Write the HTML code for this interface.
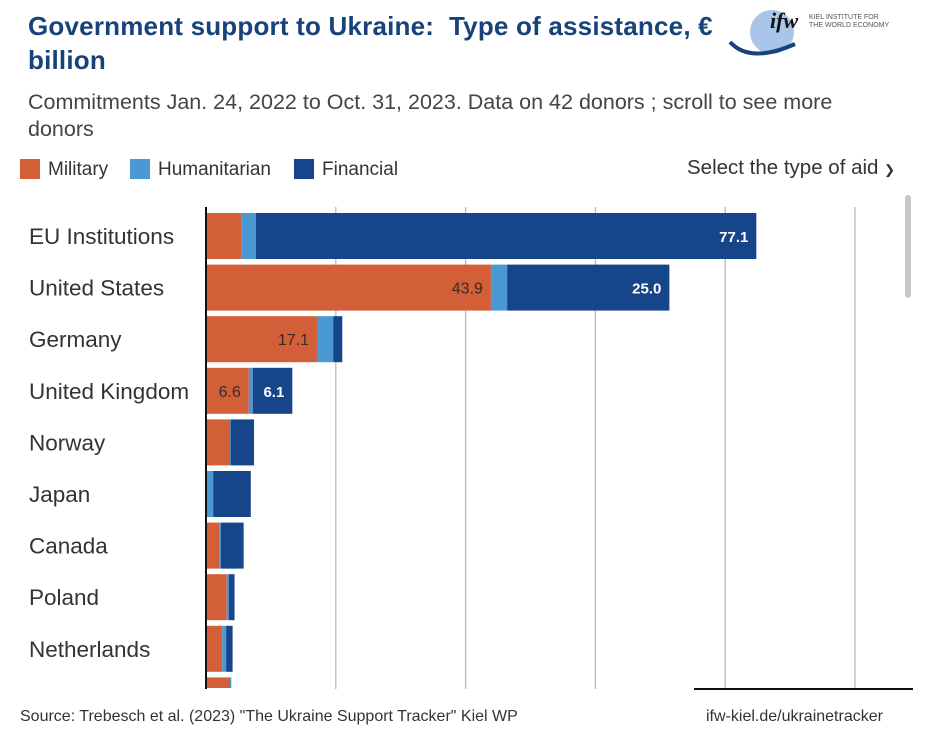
<!DOCTYPE html>
<html><head><meta charset="utf-8"><style>
body{margin:0;width:936px;height:744px;background:#fff;font-family:"Liberation Sans",sans-serif;position:relative;overflow:hidden}
.t{position:absolute;white-space:nowrap}
</style></head><body>
<div class="t" style="left:28px;top:9px;font-size:26px;font-weight:bold;color:#17427a;line-height:34px;letter-spacing:0.2px">Government support to Ukraine:&nbsp; Type of assistance, €<br>billion</div>
<div class="t" style="left:28px;top:89px;font-size:21.5px;color:#444;line-height:27px">Commitments Jan. 24, 2022 to Oct. 31, 2023. Data on 42 donors ; scroll to see more<br>donors</div>
<svg style="position:absolute;left:720px;top:4px" width="200" height="55">
<circle cx="52" cy="28" r="22" fill="#a9c6ea"/>
<path d="M10 38 Q30 60 75 40" stroke="#17427a" stroke-width="4" fill="none"/>
<text x="50" y="24" font-size="22" font-weight="bold" font-style="italic" fill="#111" font-family="Liberation Serif">ifw</text>
<text x="89" y="15" font-size="7" fill="#555">KIEL INSTITUTE FOR</text>
<text x="89" y="23" font-size="7" fill="#555">THE WORLD ECONOMY</text>
</svg>
<div>
<div class="t" style="left:20px;top:159px;font-size:19px;color:#333"><span style="display:inline-block;width:20px;height:20px;background:#d35f38;vertical-align:-4px;margin-right:8px"></span>Military</div>
<div class="t" style="left:130px;top:159px;font-size:19px;color:#333"><span style="display:inline-block;width:20px;height:20px;background:#4c98d3;vertical-align:-4px;margin-right:8px"></span>Humanitarian</div>
<div class="t" style="left:294px;top:159px;font-size:19px;color:#333"><span style="display:inline-block;width:20px;height:20px;background:#17458a;vertical-align:-4px;margin-right:8px"></span>Financial</div>
</div>
<div class="t" style="left:687px;top:156px;font-size:20.5px;color:#333">Select the type of aid <span style="font-size:13px">&#10095;</span></div>
<div style="position:absolute;left:905px;top:195px;width:6px;height:103px;background:#c8c8c8;border-radius:3px"></div>
<svg id="chart" style="position:absolute;left:0;top:0" width="936" height="744"></svg>
<div class="t" style="left:20px;top:708px;font-size:16px;color:#333">Source: Trebesch et al. (2023) "The Ukraine Support Tracker" Kiel WP</div>
<div class="t" style="left:706px;top:708px;font-size:16px;color:#333">ifw-kiel.de/ukrainetracker</div>
<script>
const countries=["EU Institutions","United States","Germany","United Kingdom","Norway","Japan","Canada","Poland","Netherlands","Denmark"];
const military=[5.5,43.9,17.1,6.6,3.7,0.1,2.1,3.2,2.5,3.7];
const humanitarian=[2.2,2.5,2.5,0.6,0.1,1.0,0.2,0.3,0.6,0.2];
const financial=[77.1,25.0,1.4,6.1,3.6,5.8,3.5,0.9,1.0,0];
const milLabels=["","43.9","17.1","6.6","","","","","",""];
const finLabels=["77.1","25.0","","6.1","","","","","",""];
const gridTicks=[20,40,60,80,100];
const NS="http://www.w3.org/2000/svg";
const svg=document.getElementById('chart');
const x0=206,scale=6.49,y0=213,pitch=51.6,bh=46,clipY=688;
const xs=v=>x0+v*scale;
function mk(tag,a){const e=document.createElementNS(NS,tag);for(const k in a)e.setAttribute(k,a[k]);svg.appendChild(e);return e;}
gridTicks.forEach((t,i)=>{const l=mk('line',{x1:xs(t),x2:xs(t),y1:207,y2:689,stroke:'#bbb','stroke-width':1.3});

});
const cols=['#d35f38','#4c98d3','#17458a'];
countries.forEach((c,i)=>{
 const y=y0+i*pitch;const h=Math.max(0,Math.min(bh,clipY-y));
 if(y+bh<=clipY){
 const lab=mk('text',{x:29,y:y+bh/2+8,'font-size':22.5,fill:'#333','font-family':'Liberation Sans'});lab.textContent=c;
 
 }
 let acc=0;[military[i],humanitarian[i],financial[i]].forEach((v,j)=>{
  if(v>0&&h>0){const r=mk('rect',{x:xs(acc),y:y,width:v*scale,height:h,fill:cols[j]});
  
  }
  acc+=v;});
 if(milLabels[i]){const t=mk('text',{x:xs(military[i])-8,y:y+bh/2+6,'font-size':16,fill:'#3a2a22','text-anchor':'end'});t.textContent=milLabels[i];
 
 }
 if(finLabels[i]){const t=mk('text',{x:xs(military[i]+humanitarian[i]+financial[i])-8,y:y+bh/2+6,'font-size':15,'font-weight':'bold',fill:'#fff','text-anchor':'end'});t.textContent=finLabels[i];
 
 }
});
const ax=mk('line',{x1:x0,x2:x0,y1:207,y2:689,stroke:'#111','stroke-width':2});


const bl=mk('line',{x1:694,x2:913,y1:689,y2:689,stroke:'#111','stroke-width':2});


</script>
</body></html>
